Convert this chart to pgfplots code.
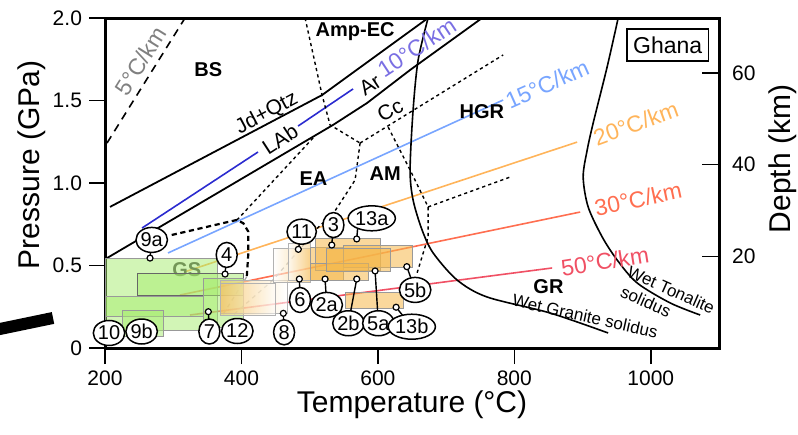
\documentclass[border=0pt]{standalone}
\usepackage{fontspec}
\setmainfont{Liberation Sans}
\usepackage{pgfplots}
\pgfplotsset{compat=1.18}
\usetikzlibrary{shapes.geometric}

\definecolor{gsfill}{HTML}{A6EC6E}
\definecolor{amfill}{HTML}{F5B84A}
\definecolor{geoA}{HTML}{2B2BCF}
\definecolor{geoAt}{HTML}{7A6FE3}
\definecolor{geoB}{HTML}{78A5FF}
\definecolor{geoC}{HTML}{FFB45A}
\definecolor{geoD}{HTML}{FF6E50}
\definecolor{geoE}{HTML}{F05064}
\definecolor{gstext}{HTML}{404040}

\tikzset{
  fb/.style={black, line width=0.7pt, dash pattern=on 1.6pt off 1.6pt},
  fbb/.style={black, line width=1.1pt, dash pattern=on 2.6pt off 1.8pt},
  fbg/.style={black!35, line width=0.6pt, dash pattern=on 2pt off 2pt},
  gbox/.style={fill=gsfill, fill opacity=0.5, draw=black!40, line width=0.4pt},
  obox/.style={fill=amfill, fill opacity=0.55, draw=black!40, line width=0.4pt},
  smp/.style={ellipse, draw, line width=0.75pt, fill=white, inner sep=0pt,
    minimum height=12.5pt, minimum width=10.5pt, font=\fontsize{10}{10}\selectfont},
  plk/.style={black, line width=0.7pt},
  fac/.style={font=\bfseries\fontsize{10}{12}\selectfont},
  geo/.style={font=\fontsize{11.5}{12}\selectfont},
  rxn/.style={font=\fontsize{10.5}{12}\selectfont},
}

\begin{document}
\begin{tikzpicture}
\useasboundingbox (-52.5pt,-43pt) rectangle (346.5pt,174pt);

\begin{axis}[
  at={(0pt,0pt)}, anchor=south west,
  scale only axis, width=307pt, height=165pt,
  xmin=200, xmax=1100, ymin=0, ymax=2,
  xtick={200,400,600,800,1000},
  ytick={0,0.5,1,1.5,2}, yticklabels={0,0.5,1.0,1.5,2.0},
  xtick pos=bottom, ytick pos=left, tick align=outside,
  major tick length=8pt,
  every tick/.style={black, line width=0.8pt},
  axis line style={line width=1.5pt},
  tick label style={font=\fontsize{10.5}{12}\selectfont},
  /pgf/number format/assume math mode=true,
  /pgf/number format/set thousands separator={},
  xlabel={Temperature (°C)}, ylabel={Pressure (GPa)},
  every axis x label/.style={at={(axis description cs:0.5,-0.173)}, anchor=center,
    font=\fontsize{15}{18}\selectfont},
  every axis y label/.style={at={(axis description cs:-0.119,0.555)}, rotate=90, anchor=center,
    font=\fontsize{15}{18}\selectfont},
  clip=false,
]

% geotherms
\addplot[black, line width=0.8pt, dash pattern=on 4pt off 3pt] coordinates {(202.9,1.242) (317.3,2.0)};
\addplot[geoA, line width=0.8pt] coordinates {(254.3,0.727) (424.3,1.188)};
\addplot[geoA, line width=0.8pt] coordinates {(483,1.345) (563.6,1.570)};
\addplot[geoB, line width=0.8pt] coordinates {(292.4,0.576) (783.6,1.503)};
\addplot[geoC, line width=0.8pt] coordinates {(317.3,0.462) (892.1,1.248)};
\addplot[geoD, line width=0.8pt] coordinates {(310,0.321) (896.5,0.824)};
\addplot[geoE, line width=0.8pt] coordinates {(324.6,0.2) (855.4,0.485)};

% reaction curves
\addplot[black, line width=0.9pt] coordinates {(207.3,0.855) (518.2,1.533) (673.6,2.0)};
\addplot[black, line width=0.9pt] coordinates {(202.9,0.545) (534.3,1.352) (584.2,1.485) (647.2,1.685) (752.8,2.0)};

% wet granite and wet tonalite solidi
\addplot[black, line width=0.8pt, smooth] coordinates {(673.6,2.0) (659,1.745) (651.6,1.442) (647.2,1.079) (651.6,0.897) (664.8,0.715) (681,0.576) (716.1,0.412) (760.1,0.309) (852.5,0.212) (937.5,0.091)};
\addplot[black, line width=0.8pt, smooth] coordinates {(952.2,2.0) (936,1.703) (915.6,1.364) (906.8,1.2) (900.9,1.036) (908.2,0.855) (928.8,0.673) (950.8,0.533) (980.1,0.394) (1028.5,0.273) (1072.4,0.2)};

% facies boundaries
\addplot[fb] coordinates {(493.3,2.0) (518.2,1.533) (529.9,1.352) (573.9,1.242)};
\addplot[fb] coordinates {(573.9,1.242) (783.6,1.776)};
\addplot[fb] coordinates {(573.9,1.242) (566.6,1.018) (537,0.83) (510,0.72) (500.6,0.67)};
\addplot[fb] coordinates {(615,1.339) (647.2,1.079) (673.6,0.855) (673.6,0.673) (657.5,0.455)};
\addplot[fb] coordinates {(673.6,0.855) (793.8,1.036)};
\addplot[fb] coordinates {(505,1.273) (393.6,0.776)};
\addplot[fbb] coordinates {(297.8,0.685) (393.1,0.776) (402.8,0.756) (410.1,0.705) (410.1,0.574) (407.8,0.432)};
\addplot[fbg] coordinates {(407.8,0.432) (371.6,0.194)};
\addplot[fbg] coordinates {(500.6,0.67) (446.3,0.412) (387.7,0.2)};

% label lying under the greenschist boxes
\node[fac, text=gstext] at (axis cs:319.8,0.473) {GS};

% greenschist-facies P-T boxes
\addplot[gbox] coordinates {(200,0.109) (364.2,0.109) (364.2,0.545) (200,0.545)} -- cycle;
\addplot[gbox, draw=black!60] coordinates {(246.9,0.321) (402.3,0.321) (402.3,0.455) (246.9,0.455)} -- cycle;
\addplot[gbox] coordinates {(200,0.194) (343.7,0.194) (343.7,0.315) (200,0.315)} -- cycle;
\addplot[gbox] coordinates {(224.9,0.073) (285,0.073) (285,0.230) (224.9,0.230)} -- cycle;
\addplot[gbox] coordinates {(343.7,0.127) (402.3,0.127) (402.3,0.424) (343.7,0.424)} -- cycle;

% amphibolite-facies P-T boxes
\addplot[draw=black!30, line width=0.4pt, left color=amfill!85, right color=white, fill opacity=0.6] coordinates {(368.6,0.212) (466.9,0.212) (466.9,0.412) (368.6,0.412)} -- cycle;
\addplot[draw=black!30, line width=0.4pt, left color=amfill!85, right color=white, fill opacity=0.5] coordinates {(368.6,0.2) (449.3,0.2) (449.3,0.39) (368.6,0.39)} -- cycle;
\addplot[draw=black!30, line width=0.4pt, left color=white, right color=amfill!85, fill opacity=0.6] coordinates {(446.3,0.4) (500.6,0.4) (500.6,0.606) (446.3,0.606)} -- cycle;
\addplot[draw=black!30, line width=0.4pt, left color=white, right color=amfill!75, fill opacity=0.5] coordinates {(468.8,0.412) (500.6,0.412) (500.6,0.633) (468.8,0.633)} -- cycle;
\addplot[obox] coordinates {(500.6,0.412) (548.9,0.412) (548.9,0.612) (500.6,0.612)} -- cycle;
\addplot[obox] coordinates {(507.9,0.473) (603.2,0.473) (603.2,0.667) (507.9,0.667)} -- cycle;
\addplot[obox] coordinates {(548.9,0.491) (650.2,0.491) (650.2,0.624) (548.9,0.624)} -- cycle;
\addplot[obox] coordinates {(500.6,0.412) (585.6,0.412) (585.6,0.515) (500.6,0.515)} -- cycle;
\addplot[obox] coordinates {(524,0.467) (618,0.467) (618,0.606) (524,0.606)} -- cycle;
\addplot[obox] coordinates {(551.9,0.242) (637,0.242) (637,0.339) (551.9,0.339)} -- cycle;

% sample leaders
\addplot[plk] coordinates {(266,0.545) (268.5,0.655)};
\addplot[plk] coordinates {(376,0.448) (378.4,0.564)};
\addplot[plk] coordinates {(351.5,0.220) (353,0.1)};
\addplot[plk] coordinates {(461.4,0.210) (462.5,0.095)};
\addplot[plk] coordinates {(483.4,0.598) (488.3,0.705)};
\addplot[plk] coordinates {(532.4,0.624) (534.8,0.745)};
\addplot[plk] coordinates {(569,0.661) (571,0.76)};
\addplot[plk] coordinates {(484.9,0.418) (485.9,0.291)};
\addplot[plk] coordinates {(522.6,0.418) (525,0.261)};
\addplot[plk] coordinates {(569,0.418) (556.8,0.150)};
\addplot[plk] coordinates {(595.9,0.467) (600.7,0.150)};
\addplot[plk] coordinates {(626.7,0.247) (649.7,0.129)};
\addplot[plk] coordinates {(642.4,0.493) (654.6,0.352)};

% sample locations
\addplot[only marks, mark=*, mark size=1.5pt, mark options={fill=white, draw=black, line width=0.6pt}]
  coordinates {(266,0.545) (376,0.448) (351.5,0.220) (461.4,0.210) (483.4,0.598) (532.4,0.624)
  (569,0.661) (484.9,0.418) (522.6,0.418) (569,0.418) (595.9,0.467) (626.7,0.247) (642.4,0.493)};

% sample names
\node[smp] at (axis cs:205.9,0.091) {10};
\node[smp] at (axis cs:253.7,0.1) {9b};
\node[smp] at (axis cs:268.5,0.655) {9a};
\node[smp] at (axis cs:378.4,0.564) {4};
\node[smp] at (axis cs:353,0.1) {7};
\node[smp] at (axis cs:394,0.103) {12};
\node[smp] at (axis cs:462.5,0.095) {8};
\node[smp] at (axis cs:488.3,0.705) {11};
\node[smp] at (axis cs:534.8,0.745) {3};
\node[smp] at (axis cs:591,0.786) {13a};
\node[smp] at (axis cs:485.9,0.291) {6};
\node[smp] at (axis cs:525,0.261) {2a};
\node[smp] at (axis cs:556.8,0.150) {2b};
\node[smp] at (axis cs:600.7,0.150) {5a};
\node[smp] at (axis cs:649.7,0.129) {13b};
\node[smp] at (axis cs:654.6,0.352) {5b};

% facies names
\node[fac] at (axis cs:351.5,1.685) {BS};
\node[fac] at (axis cs:566.6,1.917) {Amp-EC};
\node[fac] at (axis cs:752.4,1.433) {HGR};
\node[fac] at (axis cs:505.5,1.028) {EA};
\node[fac] at (axis cs:610.6,1.055) {AM};
\node[fac] at (axis cs:850,0.371) {GR};

% reaction names
\node[rxn, rotate=28] at (axis cs:437.1,1.422) {Jd+Qtz};
\node[rxn, rotate=33] at (axis cs:456.6,1.265) {LAb};
\node[rxn, rotate=33] at (axis cs:588.6,1.594) {Ar};
\node[rxn, rotate=28] at (axis cs:617.9,1.442) {Cc};

% geotherm names
\node[geo, text=black!50, rotate=58] at (axis cs:252,1.74) {5°C/km};
\node[geo, text=geoAt, rotate=33.4] at (axis cs:656.8,1.821) {10°C/km};
\node[geo, text=geoB, rotate=24] at (axis cs:848,1.6) {15°C/km};
\node[geo, text=geoC, rotate=20] at (axis cs:978,1.361) {20°C/km};
\node[geo, text=geoD, rotate=12] at (axis cs:981.6,0.903) {30°C/km};
\node[geo, text=geoE, rotate=9] at (axis cs:933,0.527) {50°C/km};

% solidus names
\node[font=\fontsize{8.5}{10}\selectfont, rotate=-12.5] at (axis cs:903.8,0.194) {Wet Granite solidus};
\node[font=\fontsize{8.5}{10}\selectfont, rotate=-24] at (axis cs:1030,0.352) {Wet Tonalite};
\node[font=\fontsize{8.5}{10}\selectfont, rotate=-24] at (axis cs:992.9,0.281) {solidus};

% region tag
\node[draw, line width=0.8pt, fill=white, inner sep=0pt, minimum width=40.8pt, minimum height=16pt,
  font=\fontsize{11.5}{12}\selectfont] at (axis cs:1024.8,1.836) {Ghana};

% stray stroke at the left margin
\addplot[black, line width=6pt, line cap=butt] coordinates {(38.7,0.109) (123.8,0.182)};
\end{axis}

\begin{axis}[
  at={(0pt,0pt)}, anchor=south west,
  scale only axis, width=307pt, height=165pt,
  xmin=200, xmax=1100, ymin=0, ymax=72,
  axis x line=none, axis y line*=right,
  ytick={20,40,60}, tick align=inside, major tick length=8.5pt,
  every tick/.style={black, line width=0.8pt},
  axis line style={line width=1.5pt, -},
  yticklabel style={font=\fontsize{10.5}{12}\selectfont, xshift=3pt},
  /pgf/number format/assume math mode=true,
  ylabel={Depth (km)},
  every axis y label/.style={at={(axis description cs:1.103,0.573)}, rotate=90, anchor=center,
    font=\fontsize{15}{18}\selectfont},
]
\end{axis}
\end{tikzpicture}
\end{document}
